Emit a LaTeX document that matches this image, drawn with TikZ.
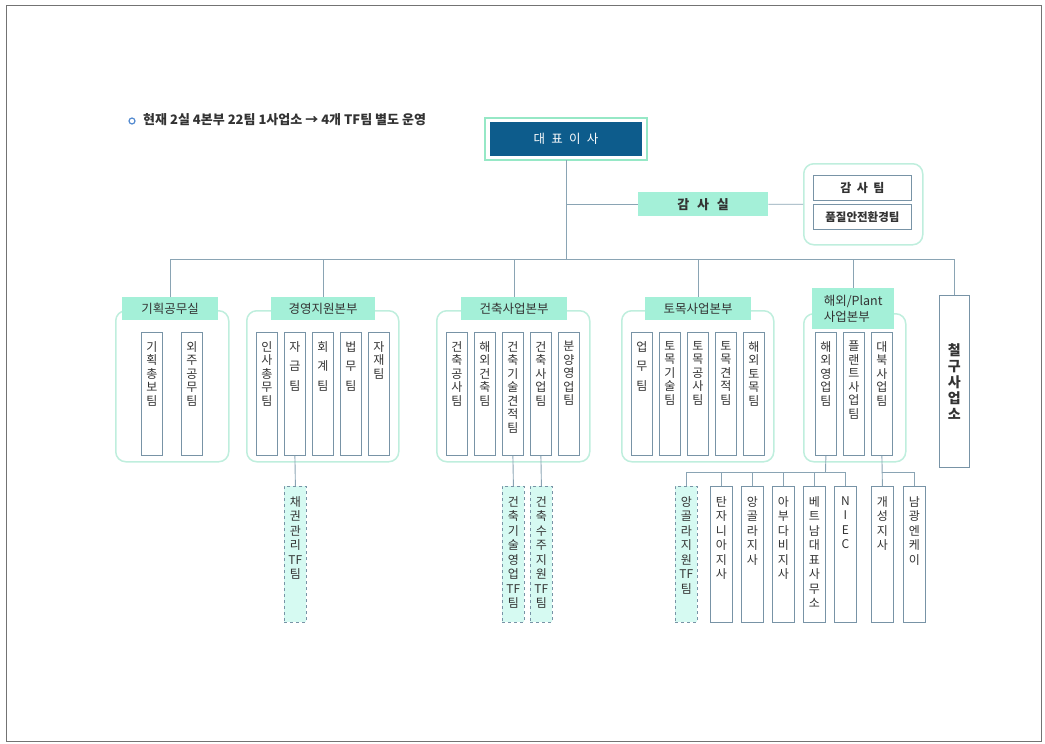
\documentclass[tikz,border=0pt]{standalone}
\usepackage{fontspec}
\setmainfont{Noto Sans CJK KR}
\usepackage{tikz}
\usetikzlibrary{positioning}

\definecolor{linec}{HTML}{8AA4B4}
\definecolor{boxc}{HTML}{7893A6}
\definecolor{mint}{HTML}{A4F0D8}
\definecolor{groupc}{HTML}{BFEEDD}
\definecolor{tffill}{HTML}{D6FAF2}
\definecolor{ceoblue}{HTML}{0D5C8C}
\definecolor{ceoedge}{HTML}{96E8C6}
\definecolor{txt}{HTML}{333333}

% vertical column text
\newcommand{\vcol}[2]{\parbox[c][#1][t]{18pt}{\centering #2}}

\begin{document}
\begin{tikzpicture}[x=1pt, y=-1pt, text=txt,
  team/.style={draw=boxc, fill=white, line width=0.8pt, minimum width=21pt, minimum height=123pt, inner sep=0pt, anchor=north west, font=\fontsize{12}{13.5}\selectfont},
  branch/.style={team, minimum width=22pt, minimum height=136pt, font=\fontsize{12}{14.5}\selectfont},
  tf/.style={branch, fill=tffill, dashed},
  head/.style={fill=mint, inner sep=0pt, anchor=north west, font=\fontsize{12.5}{14}\selectfont},
  group/.style={draw=groupc, line width=1.5pt, rounded corners=10pt, inner sep=0pt, anchor=north west},
  conn/.style={draw=linec, line width=0.9pt},
  ]
  \useasboundingbox (0,0) rectangle (1045,744);
  \draw[draw=black!55, line width=0.8pt] (6,5) rectangle (1041,741);

  % title line
  \node[draw=cyan!50!blue!70, line width=1.2pt, circle, inner sep=0pt, minimum size=6pt] (dot) at (132,121) {};
  \node[anchor=west, inner sep=0pt, font=\bfseries\fontsize{13}{15}\selectfont] (title) at (143,120) {현재 2실 4본부 22팀 1사업소 → 4개 TF팀 별도 운영};

  % top
  \node[draw=ceoedge, line width=2pt, fill=white, minimum width=162pt, minimum height=42pt, outer sep=0pt, anchor=north west] (ceoframe) at (485,118) {};
  \node[fill=ceoblue, text=white, minimum width=152pt, minimum height=34pt, font=\fontsize{12.5}{14}\selectfont] (ceo) at (ceoframe.center) {대\enspace 표\enspace 이\enspace 사};
  \node[head, minimum width=130pt, minimum height=24pt, font=\bfseries\fontsize{13}{15}\selectfont] (audit) at (638,192) {감\hspace{0.6em}사\hspace{0.6em}실};
  \node[group, minimum width=119pt, minimum height=81pt] (auditgrp) at (803,163) {};
  \node[team, minimum width=98pt, minimum height=25pt, font=\bfseries\fontsize{12}{14}\selectfont] (audit1) at (813,175) {감\hspace{0.45em}사\hspace{0.45em}팀};
  \node[team, minimum width=98pt, minimum height=25pt, font=\bfseries\fontsize{11.5}{14}\selectfont] (audit2) at (813,204) {품질안전환경팀};
  \coordinate (bus) at (566,259);

  % groups
  \node[group, minimum width=113pt, minimum height=151pt] (grp1) at (115,310) {};
  \node[group, minimum width=152pt, minimum height=151pt] (grp2) at (246,310) {};
  \node[group, minimum width=153pt, minimum height=151pt] (grp3) at (436,310) {};
  \node[group, minimum width=152pt, minimum height=151pt] (grp4) at (621,310) {};
  \node[group, minimum width=102pt, minimum height=148pt] (grp5) at (803,313) {};

  \node[head, minimum width=96pt, minimum height=23pt] (lbl1) at (122,297) {기획공무실};
  \node[head, minimum width=104pt, minimum height=23pt] (lbl2) at (271,297) {경영지원본부};
  \node[head, minimum width=106pt, minimum height=23pt] (lbl3) at (461,297) {건축사업본부};
  \node[head, minimum width=106pt, minimum height=23pt] (lbl4) at (645,297) {토목사업본부};
  \node[head, minimum width=82pt, minimum height=41pt, align=left, font=\fontsize{12.5}{16}\selectfont] (lbl5) at (812,288) {해외/Plant\\사업본부};
  \node[team, minimum width=30pt, minimum height=172pt, font=\bfseries\fontsize{14}{16}\selectfont, align=center] (chul) at (939,295) {철\\구\\사\\업\\소};

  % teams
  \foreach \x/\t [count=\i] in {141/{기\\획\\총\\보\\팀}, 181/{외\\주\\공\\무\\팀}}
    \node[team] (g1t\i) at (\x,332) {\vcol{105pt}{\t}};
  \foreach \x/\t [count=\i] in {256/{인\\사\\총\\무\\팀}, 284/{자\\[6pt]금\\[6pt]팀}, 312/{회\\[6pt]계\\[6pt]팀}, 340/{법\\[6pt]무\\[6pt]팀}, 368/{자\\재\\팀}}
    \node[team] (g2t\i) at (\x,332) {\vcol{105pt}{\t}};
  \foreach \x/\t [count=\i] in {446/{건\\축\\공\\사\\팀}, 474/{해\\외\\건\\축\\팀}, 502/{건\\축\\기\\술\\견\\적\\팀}, 530/{건\\축\\사\\업\\팀}, 558/{분\\양\\영\\업\\팀}}
    \node[team] (g3t\i) at (\x,332) {\vcol{105pt}{\t}};
  \foreach \x/\t [count=\i] in {631/{업\\[6pt]무\\[6pt]팀}, 659/{토\\목\\기\\술\\팀}, 687/{토\\목\\공\\사\\팀}, 715/{토\\목\\견\\적\\팀}, 743/{해\\외\\토\\목\\팀}}
    \node[team] (g4t\i) at (\x,332) {\vcol{105pt}{\t}};
  \foreach \x/\t [count=\i] in {815/{해\\외\\영\\업\\팀}, 843/{플\\랜\\트\\사\\업\\팀}, 871/{대\\북\\사\\업\\팀}}
    \node[team] (g5t\i) at (\x,332) {\vcol{105pt}{\t}};

  % TF teams and branches
  \node[tf] (tf1) at (284,486) {\vcol{116pt}{채\\권\\관\\리\\TF\\팀}};
  \node[tf] (tf2) at (502,486) {\vcol{116pt}{건\\축\\기\\술\\영\\업\\TF\\팀}};
  \node[tf] (tf3) at (530,486) {\vcol{116pt}{건\\축\\수\\주\\지\\원\\TF\\팀}};
  \node[tf] (tf4) at (675,486) {\vcol{116pt}{앙\\골\\라\\지\\원\\TF\\팀}};
  \foreach \x/\t [count=\i] in {710/{탄\\자\\니\\아\\지\\사}, 741/{앙\\골\\라\\지\\사}, 772/{아\\부\\다\\비\\지\\사}, 803/{베\\트\\남\\대\\표\\사\\무\\소}, 834/{N\\I\\E\\C}, 871/{개\\성\\지\\사}, 903/{남\\광\\엔\\케\\이}}
    \node[branch] (br\i) at (\x,486) {\vcol{116pt}{\t}};
  \coordinate (hub1) at (825.5,472);
  \coordinate (hub2) at (881.5,472);

  % connectors
  \draw[conn] (ceoframe.south) -- (bus);
  \draw[conn] (audit.west) -- (audit.west -| bus);
  \draw[conn] (audit.east) -- (auditgrp.west);
  \draw[conn] (lbl1.north) -- (lbl1.north |- bus) -- (chul.north |- bus) -- (chul.north);
  \foreach \n in {lbl2, lbl3, lbl4, lbl5}
    \draw[conn] (\n.north) -- (\n.north |- bus);
  \draw[conn] (g2t2.south) -- (tf1.north);
  \draw[conn] (g3t3.south) -- (tf2.north);
  \draw[conn] (g3t4.south) -- (tf3.north);
  \draw[conn] (g5t1.south) -- (hub1);
  \draw[conn] (tf4.north |- hub1) -- (br5.north |- hub1);
  \foreach \n in {tf4, br1, br2, br3, br4, br5}
    \draw[conn] (\n.north) -- (\n.north |- hub1);
  \draw[conn] (g5t3.south) -- (br6.north);
  \draw[conn] (hub2) -- (br7.north |- hub2) -- (br7.north);
\end{tikzpicture}
\end{document}
